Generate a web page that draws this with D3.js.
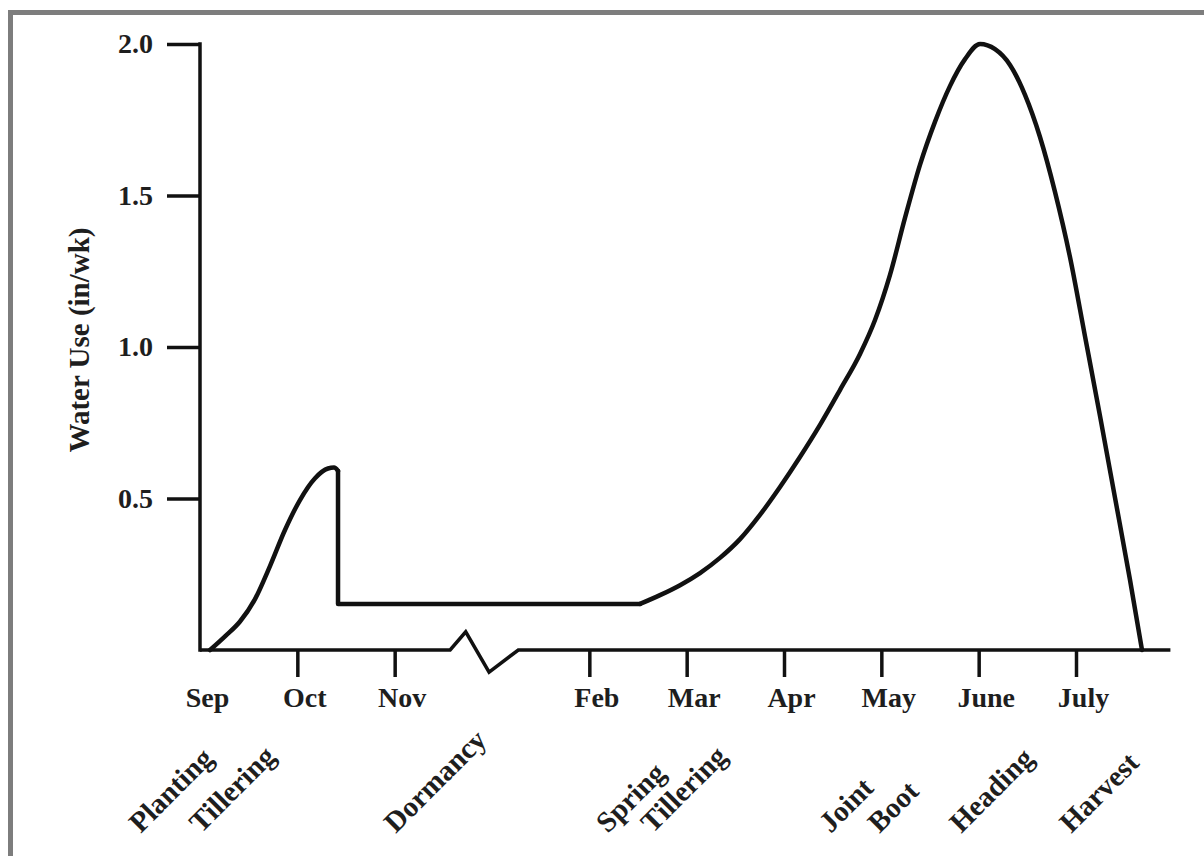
<!DOCTYPE html>
<html>
<head>
<meta charset="utf-8">
<script src="https://cdn.jsdelivr.net/npm/d3@7"></script>
<style>
  html, body { margin: 0; padding: 0; background: #fff; }
  svg { display: block; }
</style>
</head>
<body>
<svg id="chart" width="1204" height="856"></svg>
<script>
// ---- data ----
const months = ["Sep", "Oct", "Nov", "Feb", "Mar", "Apr", "May", "June", "July"];
const monthPos = [0, 1, 2, 4, 5, 6, 7, 8, 9];           // month index (Dec/Jan cut by the break)
const yTicks = [0.5, 1.0, 1.5, 2.0];
const yLabel = "Water Use (in/wk)";

const stages = ["Planting", "Tillering", "Dormancy", "Spring", "Tillering", "Joint", "Boot", "Heading", "Harvest"];
const stagePos = [-0.61, 0.01, 2.01, 4.19, 4.65, 6.48, 6.98, 7.82, 8.95];

// fall growth hump
const fallX = [0.103, 0.257, 0.411, 0.565, 0.719, 0.873, 1.027, 1.182, 1.315, 1.377, 1.418];
const fallY = [0.000, 0.045, 0.094, 0.168, 0.277, 0.396, 0.495, 0.567, 0.599, 0.602, 0.591];
// drop into dormancy and flat winter use
const dormX = [1.418, 1.418, 4.521];
const dormY = [0.591, 0.152, 0.152];
// spring growth to harvest
const springX = [4.521, 4.726, 4.932, 5.137, 5.342, 5.548, 5.753, 5.959, 6.164, 6.370, 6.575, 6.781,
                 6.935, 7.089, 7.243, 7.397, 7.551, 7.705, 7.860, 8.014, 8.168, 8.322, 8.476, 8.630,
                 8.784, 8.938, 9.092, 9.247, 9.401, 9.555, 9.678];
const springY = [0.152, 0.181, 0.214, 0.254, 0.304, 0.366, 0.446, 0.538, 0.637, 0.743, 0.858, 0.977,
                 1.089, 1.238, 1.426, 1.601, 1.743, 1.861, 1.950, 2.000, 1.983, 1.931, 1.832, 1.693,
                 1.512, 1.297, 1.036, 0.772, 0.502, 0.231, 0.000];

// axis break (zig-zag) in data units
const breakX = [2.57, 2.73, 2.97, 3.27];
const breakY = [0, 0.06, -0.073, 0];

// ---- drawing ----
const svg = d3.select("#chart");
const serif = "'Liberation Serif', 'Times New Roman', serif";
const ink = "#1e1e1e";

const x = d3.scaleLinear().domain([0, 9]).range([200, 1076]);
const y = d3.scaleLinear().domain([0, 2]).range([650, 44]);

// frame
svg.append("rect")
  .attr("x", 10.5).attr("y", 12.5)
  .attr("width", 1200).attr("height", 850)
  .attr("fill", "none").attr("stroke", "#7d7d7d").attr("stroke-width", 5);

// y axis
const yAxis = d3.axisLeft(y).tickValues(yTicks).tickFormat(d3.format(".1f"))
  .tickSize(33).tickSizeOuter(0).tickPadding(14);
const gy = svg.append("g").attr("transform", `translate(${x(0)},0)`).call(yAxis);
gy.select(".domain").remove();
gy.selectAll(".tick line").attr("stroke", "#111").attr("stroke-width", 3.5);
gy.selectAll(".tick text").attr("font-family", serif).attr("font-weight", "bold")
  .attr("font-size", 28).attr("fill", ink);
svg.append("line")
  .attr("x1", x(0)).attr("x2", x(0)).attr("y1", y(2) - 1.75).attr("y2", y(0) + 1.75)
  .attr("stroke", "#111").attr("stroke-width", 3.5);

// y label
svg.append("text")
  .attr("transform", `translate(89,340) rotate(-90)`)
  .attr("text-anchor", "middle")
  .attr("font-family", serif).attr("font-weight", "bold")
  .attr("font-size", 29).attr("fill", ink)
  .text(yLabel);

// x axis baseline with break
const basePts = [[0, 0]]
  .concat(breakX.map((d, i) => [d, breakY[i]]))
  .concat([[9.97, 0]]);
svg.append("path")
  .attr("d", d3.line().x(d => x(d[0])).y(d => y(d[1]))(basePts))
  .attr("fill", "none").attr("stroke", "#111").attr("stroke-width", 3.5)
  .attr("stroke-linejoin", "miter");

// x ticks + month labels
const xAxis = d3.axisBottom(x).tickValues(monthPos)
  .tickFormat((d, i) => months[i]).tickSize(27).tickPadding(10).tickSizeOuter(0);
const gx = svg.append("g").attr("transform", `translate(0,${y(0)})`).call(xAxis);
gx.select(".domain").remove();
gx.selectAll(".tick line").attr("stroke", "#111").attr("stroke-width", 3.5)
  .attr("opacity", (d, i) => i === 0 ? 0 : 1);
gx.selectAll(".tick text").attr("font-family", serif).attr("font-weight", "bold")
  .attr("font-size", 28).attr("fill", ink).attr("dx", 7);

// stage labels
svg.append("g").selectAll("text").data(stages).join("text")
  .attr("transform", (d, i) => `translate(${x(stagePos[i])},834) rotate(-45)`)
  .attr("text-anchor", "start")
  .attr("font-family", serif).attr("font-weight", "bold")
  .attr("font-size", 29).attr("fill", ink)
  .text(d => d);

// water use curve
const smooth = d3.line().x(d => x(d[0])).y(d => y(d[1])).curve(d3.curveMonotoneX);
const straight = d3.line().x(d => x(d[0])).y(d => y(d[1]));
const zip = (a, b) => a.map((d, i) => [d, b[i]]);
const curveStyle = sel => sel.attr("fill", "none").attr("stroke", "#111")
  .attr("stroke-width", 4.5).attr("stroke-linejoin", "round").attr("stroke-linecap", "round");

svg.append("path").attr("d", smooth(zip(fallX, fallY))).call(curveStyle);
svg.append("path").attr("d", straight(zip(dormX, dormY))).call(curveStyle);
svg.append("path").attr("d", smooth(zip(springX, springY))).call(curveStyle);
</script>
</body>
</html>
